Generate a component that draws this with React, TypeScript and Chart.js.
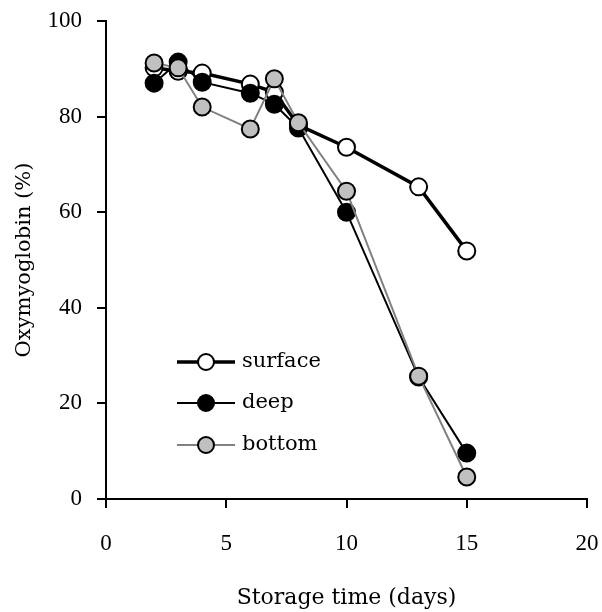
import React, { useEffect, useRef } from "react";
import { Chart, registerables } from "chart.js";

Chart.register(...registerables);

const days = [2, 3, 4, 6, 7, 8, 10, 13, 15];
const surface = [90.2, 89.5, 89.1, 86.8, 85.1, 78.2, 73.6, 65.3, 51.9];
const deep = [87.0, 91.4, 87.2, 84.9, 82.6, 77.6, 60.0, 25.5, 9.6];
const bottom = [91.2, 90.2, 82.0, 77.4, 87.9, 78.7, 64.4, 25.7, 4.6];
const seriesNames = ["surface", "deep", "bottom"];
const xTicks = [0, 5, 10, 15, 20];
const yTicks = [0, 20, 40, 60, 80, 100];

const TEXT_FONT = "'DejaVu Serif', 'Liberation Serif', serif";
const TICK_FONT = "'Liberation Serif', 'DejaVu Serif', serif";

const styles = [
  { line: "#000000", fill: "#ffffff", width: 3.5 },
  { line: "#000000", fill: "#000000", width: 2 },
  { line: "#808080", fill: "#c0c0c0", width: 2 },
];

const legendPlugin = {
  id: "insideLegend",
  afterDraw(chart: any) {
    const ctx = chart.ctx;
    const rows = [362, 403, 445];
    ctx.save();
    seriesNames.forEach((name, i) => {
      const st = styles[i];
      const y = rows[i];
      const x0 = 177;
      const x1 = 235;
      const xm = 206;
      ctx.strokeStyle = st.line;
      ctx.lineWidth = st.width;
      ctx.beginPath();
      ctx.moveTo(x0, y);
      ctx.lineTo(x1, y);
      ctx.stroke();
      ctx.beginPath();
      ctx.arc(xm, y, 8, 0, Math.PI * 2);
      ctx.fillStyle = st.fill;
      ctx.fill();
      ctx.lineWidth = 2;
      ctx.strokeStyle = "#000";
      ctx.stroke();
      ctx.fillStyle = "#000";
      ctx.font = `21px ${TEXT_FONT}`;
      ctx.textBaseline = "middle";
      ctx.textAlign = "left";
      ctx.fillText(name, 242, y);
    });
    ctx.restore();
  },
};

export default function App() {
  const ref = useRef<HTMLCanvasElement | null>(null);
  useEffect(() => {
    document.body.style.margin = "0";
    const seriesVals = [surface, deep, bottom];
    const chart = new Chart(ref.current!, {
      type: "line",
      data: {
        datasets: seriesNames.map((name, i) => ({
          label: name,
          data: days.map((d, j) => ({ x: d, y: seriesVals[i][j] })),
          borderColor: styles[i].line,
          borderWidth: styles[i].width,
          backgroundColor: styles[i].fill,
          pointBackgroundColor: styles[i].fill,
          pointBorderColor: "#000000",
          pointBorderWidth: 2,
          pointRadius: 8.5,
          tension: 0,
          order: 3 - i,
        })),
      },
      options: {
        responsive: false,
        animation: false,
        layout: { padding: { left: 0, right: 15, top: 21, bottom: 0 } },
        plugins: {
          legend: { display: false },
          tooltip: { enabled: false },
        },
        scales: {
          x: {
            type: "linear",
            min: 0,
            max: 20,
            afterBuildTicks: (s: any) => {
              s.ticks = xTicks.map((v) => ({ value: v }));
            },
            afterFit: (s: any) => {
              s.height = 113;
              s.paddingLeft = 0;
              s.paddingRight = 0;
            },
            grid: {
              drawOnChartArea: false,
              drawTicks: true,
              tickLength: 9,
              color: "#000",
              lineWidth: 2,
            },
            border: { color: "#000", width: 2 },
            ticks: {
              color: "#000",
              font: { family: TICK_FONT, size: 23 },
              padding: 22,
              maxRotation: 0,
            },
            title: {
              display: true,
              text: "Storage time (days)",
              color: "#000",
              font: { family: TEXT_FONT, size: 22 },
              padding: { top: 0, bottom: 1 },
            },
          },
          y: {
            type: "linear",
            min: 0,
            max: 100,
            afterBuildTicks: (s: any) => {
              s.ticks = yTicks.map((v) => ({ value: v }));
            },
            afterFit: (s: any) => {
              s.width = 106;
              s.paddingTop = 0;
              s.paddingBottom = 0;
            },
            grid: {
              drawOnChartArea: false,
              drawTicks: true,
              tickLength: 9,
              color: "#000",
              lineWidth: 2,
            },
            border: { color: "#000", width: 2 },
            ticks: {
              color: "#000",
              font: { family: TICK_FONT, size: 23 },
              padding: 15,
            },
            title: {
              display: true,
              text: "Oxymyoglobin (%)",
              color: "#000",
              font: { family: TEXT_FONT, size: 21 },
              padding: { top: 12, bottom: 0 },
            },
          },
        },
      },
      plugins: [legendPlugin],
    });
    return () => chart.destroy();
  }, []);
  return (
    <div style={{ position: "absolute", left: 0, top: 0, width: 602, height: 612, background: "#fff" }}>
      <canvas ref={ref} width={602} height={612} style={{ width: 602, height: 612, display: "block" }} />
    </div>
  );
}
